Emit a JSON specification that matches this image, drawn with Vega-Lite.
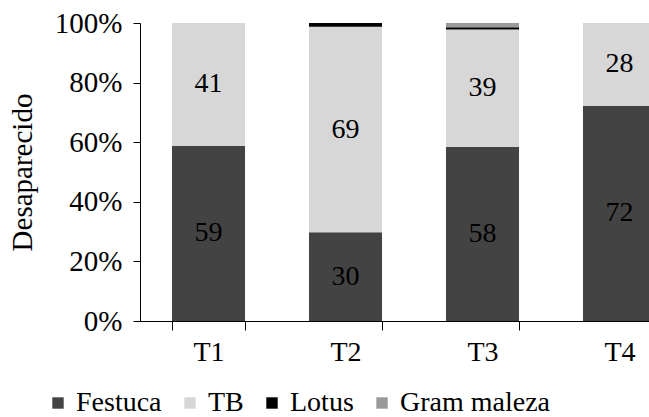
{
  "$schema": "https://vega.github.io/schema/vega-lite/v6.json",
  "width": 548,
  "height": 298,
  "autosize": "none",
  "padding": {"left": 140, "top": 23, "right": 0, "bottom": 96},
  "background": "white",
  "config": {"font": "Liberation Serif", "view": {"stroke": null}},
  "data": {
    "values": [
      {"t": "T1", "cat": "Festuca", "v": 58.8, "o": 1},
      {"t": "T1", "cat": "TB", "v": 41.2, "o": 2},
      {"t": "T2", "cat": "Festuca", "v": 29.8, "o": 1},
      {"t": "T2", "cat": "TB", "v": 68.9, "o": 2},
      {"t": "T2", "cat": "Lotus", "v": 1.3, "o": 3},
      {"t": "T3", "cat": "Festuca", "v": 58.4, "o": 1},
      {"t": "T3", "cat": "TB", "v": 39.4, "o": 2},
      {"t": "T3", "cat": "Lotus", "v": 0.8, "o": 3},
      {"t": "T3", "cat": "Gram maleza", "v": 1.4, "o": 4},
      {"t": "T4", "cat": "Festuca", "v": 72.2, "o": 1},
      {"t": "T4", "cat": "TB", "v": 27.8, "o": 2}
    ]
  },
  "transform": [
    {"stack": "v", "groupby": ["t"], "sort": [{"field": "o", "order": "ascending"}], "offset": "normalize", "as": ["lo", "hi"]},
    {"calculate": "(datum.lo + datum.hi) / 2", "as": "mid"}
  ],
  "encoding": {
    "x": {
      "field": "t",
      "type": "nominal",
      "scale": {"paddingInner": 0.467, "paddingOuter": 0.2335},
      "axis": {
        "title": null,
        "labelAngle": 0,
        "labelFontSize": 28,
        "labelFont": "Liberation Serif",
        "labelColor": "#000",
        "labelPadding": 8,
        "tickBand": "extent",
        "tickSize": 9,
        "tickColor": "#000",
        "domainColor": "#000",
        "grid": false
      }
    }
  },
  "layer": [
    {
      "mark": {"type": "bar"},
      "encoding": {
        "y": {
          "field": "lo",
          "type": "quantitative",
          "scale": {"domain": [0, 1]},
          "axis": {
            "title": "Desaparecido",
            "titleFontSize": 29,
            "titleFont": "Liberation Serif",
            "titleFontWeight": "normal",
            "titleColor": "#000",
            "titleAngle": -90,
            "titleX": -118,
            "titleY": 149,
            "titleAlign": "center",
            "titleBaseline": "middle",
            "values": [0, 0.2, 0.4, 0.6, 0.8, 1],
            "format": ".0%",
            "labelFontSize": 29,
            "labelFont": "Liberation Serif",
            "labelColor": "#000",
            "labelPadding": 11,
            "tickSize": 7,
            "tickColor": "#000",
            "domainColor": "#000",
            "grid": false
          }
        },
        "y2": {"field": "hi"},
        "color": {
          "field": "cat",
          "type": "nominal",
          "scale": {
            "domain": ["Festuca", "TB", "Lotus", "Gram maleza"],
            "range": ["#434343", "#d7d7d7", "#000000", "#9a9a9a"]
          },
          "legend": {
            "orient": "none",
            "legendX": -96,
            "legendY": 366,
            "direction": "horizontal",
            "title": null,
            "symbolType": "square",
            "symbolSize": 130,
            "symbolStrokeWidth": 0,
            "labelFontSize": 28,
            "labelFont": "Liberation Serif",
            "labelColor": "#000",
            "labelOffset": 4,
            "columnPadding": 14
          }
        }
      }
    },
    {
      "transform": [{"filter": "datum.v > 5"}],
      "mark": {"type": "text", "fontSize": 28, "font": "Liberation Serif", "color": "#000"},
      "encoding": {
        "y": {"field": "mid", "type": "quantitative"},
        "text": {"field": "v", "type": "quantitative", "format": ".0f"}
      }
    }
  ]
}
